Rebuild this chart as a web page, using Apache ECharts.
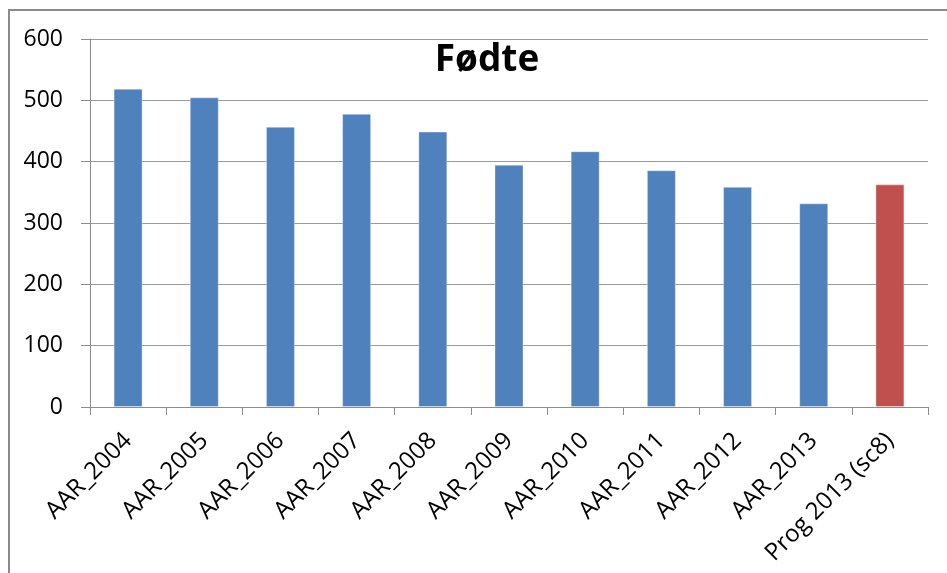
<!DOCTYPE html>
<html>
<head>
<meta charset="utf-8">
<script src="https://cdn.jsdelivr.net/npm/echarts@6/dist/echarts.min.js"></script>
<style>
  html, body { margin: 0; padding: 0; background: #fff; }
  #chart { width: 947px; height: 573px; }
</style>
</head>
<body>
<div id="chart"></div>
<script>
// data
var categories = ['AAR_2004', 'AAR_2005', 'AAR_2006', 'AAR_2007', 'AAR_2008', 'AAR_2009',
                  'AAR_2010', 'AAR_2011', 'AAR_2012', 'AAR_2013', 'Prog 2013 (sc8)'];
var births = [519, 505, 457, 478, 449, 395, 417, 386, 359, 332, 363];
var yTicks = [0, 100, 200, 300, 400, 500, 600];

var BLUE = '#4F81BD';
var RED = '#C0504D';

var chart = echarts.init(document.getElementById('chart'));

var option = {
    animation: false,
    title: {
        text: 'Fødte',
        left: 482,
        top: 37,
        textAlign: 'center',
        textStyle: {
            fontFamily: 'Open Sans',
            fontWeight: 'bold',
            fontSize: 37,
            color: '#000'
        }
    },
    graphic: [{
        type: 'rect',
        shape: { x: 9, y: 10, width: 1000, height: 700 },
        style: { fill: 'none', stroke: '#8a8a8a', lineWidth: 2 },
        silent: true
    }],
    grid: {
        left: 90,
        right: 19,
        top: 39,
        bottom: 166
    },
    xAxis: {
        type: 'category',
        data: categories,
        axisLine: { lineStyle: { color: '#8c8c8c', width: 1 } },
        axisTick: { show: true, length: 8, lineStyle: { color: '#8c8c8c' } },
        axisLabel: {
            interval: 0,
            rotate: 45,
            margin: 30,
            fontFamily: 'Open Sans',
            fontSize: 24,
            color: '#000'
        }
    },
    yAxis: {
        type: 'value',
        min: yTicks[0],
        max: yTicks[yTicks.length - 1],
        interval: 100,
        axisLine: { show: true, lineStyle: { color: '#8c8c8c', width: 1 } },
        axisTick: { show: true, length: 9, lineStyle: { color: '#8c8c8c' } },
        splitLine: { lineStyle: { color: '#9a9a9a', width: 1 } },
        axisLabel: {
            margin: 27,
            fontFamily: 'Open Sans',
            fontSize: 23,
            color: '#000'
        }
    },
    series: [{
        type: 'bar',
        data: births,
        barWidth: 29,
        itemStyle: {
            color: function (p) {
                return p.dataIndex === births.length - 1 ? RED : BLUE;
            },
            borderColor: 'rgba(255,255,255,0.35)',
            borderWidth: 1
        }
    }]
};

chart.setOption(option);
</script>
</body>
</html>
